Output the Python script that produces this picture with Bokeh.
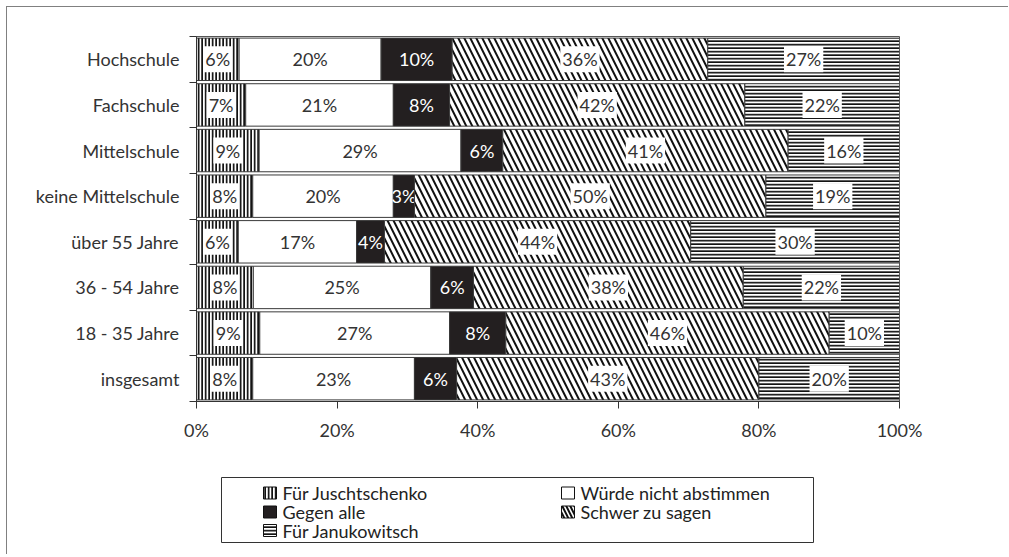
import numpy as np
from bokeh.plotting import figure
from bokeh.models import Range1d, FixedTicker
from bokeh.layouts import column
from bokeh.core.properties import value
from bokeh.embed import file_html
from bokeh.resources import INLINE

# ---------------- data ----------------
categories = ["Hochschule", "Fachschule", "Mittelschule", "keine Mittelschule",
              "über 55 Jahre", "36 - 54 Jahre", "18 - 35 Jahre", "insgesamt"]
juschtschenko   = [6, 7, 9, 8, 6, 8, 9, 8]
nicht_abstimmen = [20, 21, 29, 20, 17, 25, 27, 23]
gegen_alle      = [10, 8, 6, 3, 4, 6, 8, 6]
schwer          = [36, 42, 41, 50, 44, 38, 46, 43]
janukowitsch    = [27, 22, 16, 19, 30, 22, 10, 20]
series_names = ["Für Juschtschenko", "Würde nicht abstimmen", "Gegen alle",
                "Schwer zu sagen", "Für Janukowitsch"]
x_ticks = [0, 20, 40, 60, 80, 100]
x_tick_labels = ["0%", "20%", "40%", "60%", "80%", "100%"]

FONT = "Lato"
TXT = "#333333"
HATCH = "#111111"

styles = [
    dict(fill_color="white", hatch_pattern="vertical_line", hatch_color=HATCH, hatch_scale=3.5, hatch_weight=1.9),
    dict(fill_color="white"),
    dict(fill_color="#231f20"),
    dict(fill_color="white", hatch_pattern="left_diagonal_line", hatch_color=HATCH, hatch_scale=12, hatch_weight=2),
    dict(fill_color="white", hatch_pattern="horizontal_line", hatch_color=HATCH, hatch_scale=3.5, hatch_weight=1.8),
]
label_box = [True, False, False, True, True]
label_color = [TXT, TXT, "white", TXT, TXT]
values_list = [juschtschenko, nicht_abstimmen, gegen_alle, schwer, janukowitsch]

n = len(categories)
ys = np.arange(n, 0, -1)  # top category at highest position
totals = np.sum(np.array(values_list, dtype=float), axis=0)

OFF = 7            # layout offset (outer frame drawn just outside it)
W = 1009 - OFF
FRAME_L, FRAME_R, FRAME_T, FRAME_B = 196, 899, 36, 401   # page pixels

# ---------------- main chart ----------------
H1 = 465 - OFF
p1 = figure(width=W, height=H1, x_range=Range1d(0, 100), y_range=Range1d(0.5, n + 0.5),
            output_backend="svg", toolbar_location=None,
            min_border_left=FRAME_L - OFF, min_border_right=1009 - FRAME_R,
            min_border_top=FRAME_T - OFF, min_border_bottom=(H1 + OFF) - FRAME_B)
p1.xgrid.visible = False
p1.ygrid.visible = False
p1.outline_line_color = "#555555"
p1.background_fill_color = "white"
p1.border_fill_color = "white"

left = np.zeros(n)
for vals, st, box, tc in zip(values_list, styles, label_box, label_color):
    v = np.array(vals, dtype=float)
    share = v / totals * 100.0
    right = left + share
    p1.hbar(y=ys, left=left, right=right, height=0.93, line_color="#3a3a3a", line_width=1, **st)
    mid = (left + right) / 2.0
    labels = [f"{int(x)}%" for x in vals]
    kw = dict(x=mid, y=ys, text=labels, text_font=value(FONT), text_font_size="18px",
              text_color=tc, text_align="center", text_baseline="middle")
    if box:
        p1.text(background_fill_color="white", padding=2, **kw)
    else:
        p1.text(**kw)
    left = right

xa = p1.xaxis[0]
xa.ticker = FixedTicker(ticks=x_ticks)
xa.major_label_overrides = {t: l for t, l in zip(x_ticks, x_tick_labels)}
xa.major_tick_out = 7
xa.major_tick_in = 0
xa.minor_tick_out = 0
xa.axis_line_color = "#333333"
xa.major_tick_line_color = "#333333"
xa.major_label_text_font = FONT
xa.major_label_text_font_size = "18px"
xa.major_label_text_color = TXT
xa.major_label_standoff = 10

ya = p1.yaxis[0]
ya.ticker = FixedTicker(ticks=list(ys), minor_ticks=[i + 0.5 for i in range(0, n + 1)])
ya.major_label_overrides = {int(y): c for y, c in zip(ys, categories)}
ya.major_tick_out = 0
ya.major_tick_in = 0
ya.minor_tick_out = 7
ya.minor_tick_in = 0
ya.axis_line_color = "#333333"
ya.minor_tick_line_color = "#333333"
ya.major_label_text_font = FONT
ya.major_label_text_font_size = "18px"
ya.major_label_text_color = TXT
ya.major_label_standoff = 10

# ---------------- legend ----------------
H2 = 90
LEG_TOP = H1 + OFF   # page y of legend figure's top
p2 = figure(width=W, height=H2, x_range=Range1d(FRAME_L, FRAME_R), y_range=Range1d(H2, 0),
            output_backend="svg", toolbar_location=None,
            min_border_left=FRAME_L - OFF, min_border_right=1009 - FRAME_R,
            min_border_top=0, min_border_bottom=0,
            x_axis_type=None, y_axis_type=None)
p2.xgrid.visible = False
p2.ygrid.visible = False
p2.outline_line_color = None
p2.border_fill_color = "white"
p2.background_fill_color = "white"

p2.quad(left=[221], right=[813], top=[477 - LEG_TOP], bottom=[542 - LEG_TOP],
        fill_color=None, line_color="#333333", line_width=1)

col_x = [263, 561, 263, 561, 263]
row_y = [492.5, 492.5, 511.5, 511.5, 530]
for name, st, cx, ry in zip(series_names, styles, col_x, row_y):
    st2 = dict(st)
    if st2.get("hatch_pattern") == "left_diagonal_line":
        st2["hatch_scale"] = 8
    yy = ry - LEG_TOP
    p2.quad(left=[cx], right=[cx + 13], top=[yy - 6], bottom=[yy + 6], line_color="#111111", line_width=1, **st2)
    p2.text(x=[cx + 19], y=[yy], text=[name], text_font=value(FONT), text_font_size="18px",
            text_color="#222222", text_align="left", text_baseline="middle")

layout = column(p1, p2, styles={"margin-left": f"{OFF}px", "margin-top": f"{OFF}px",
                                "box-shadow": "-1px -1px 0 0 #808080"})

open("out.html", "w").write(file_html(layout, INLINE))
